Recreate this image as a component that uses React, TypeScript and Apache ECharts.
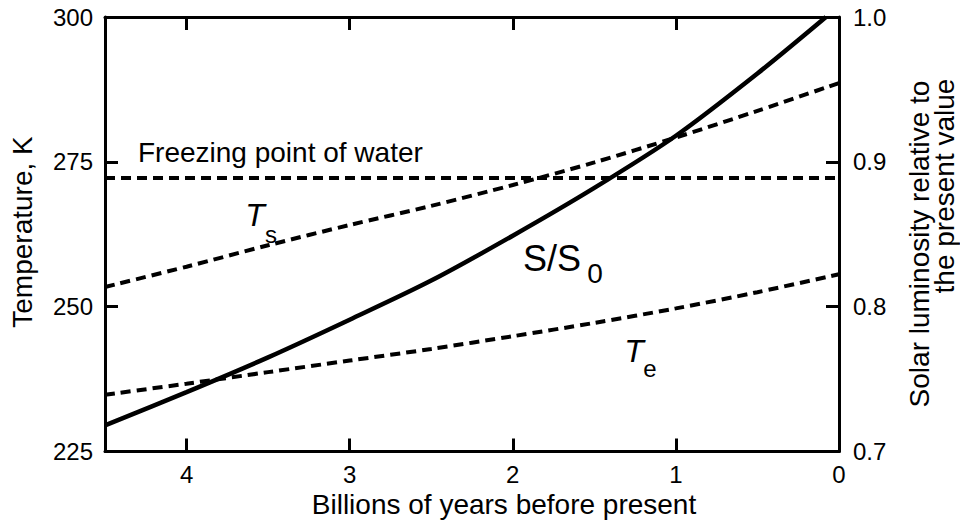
import React, { useEffect, useRef } from "react";
import * as echarts from "echarts";

// Billions of years before present
const years = [4.5, 4.0, 3.5, 3.0, 2.5, 2.0, 1.5, 1.0, 0.5, 0.0];
// Surface temperature Ts (K)
const surfaceTemp = [253.4, 256.9, 260.6, 264.1, 267.4, 271.0, 274.9, 279.2, 283.8, 288.6];
// Effective temperature Te (K)
const effectiveTemp = [234.8, 236.7, 238.7, 240.7, 242.7, 244.9, 247.2, 249.7, 252.5, 255.6];
// Solar luminosity S/S0 (right axis)
const luminosityYears = [4.5, 4.0, 3.5, 3.0, 2.5, 2.0, 1.5, 1.0, 0.5, 0.08];
const luminosity = [0.718, 0.741, 0.765, 0.791, 0.818, 0.849, 0.882, 0.918, 0.961, 1.0];
// Freezing point of water line (K)
const freezingPoint = 272.2;
const freezingSpan = [4.5, 0];

const FONT = "'Liberation Sans', Arial, Helvetica, sans-serif";
const BLACK = "#000";

export default function App() {
  const ref = useRef<HTMLDivElement>(null);

  useEffect(() => {
    if (!ref.current) return;
    const chart = echarts.init(ref.current, null, { renderer: "svg" });

    const axisLine = { show: true, onZero: false, lineStyle: { color: BLACK, width: 3 } };
    const axisTick = { show: true, inside: true, length: 13, lineStyle: { color: BLACK, width: 3 } };
    const labelBase = { color: BLACK, fontSize: 24, fontFamily: FONT };

    const text = (
      t: string,
      x: number,
      y: number,
      size: number,
      opts: Record<string, any> = {}
    ) => ({
      type: "text",
      x,
      y,
      rotation: opts.rotation || 0,
      silent: true,
      style: {
        text: t,
        fontSize: size,
        fontFamily: FONT,
        fontStyle: opts.italic ? "italic" : "normal",
        fill: BLACK,
        align: opts.align || "center",
        verticalAlign: "middle",
        lineHeight: opts.lineHeight || size,
      },
    });

    chart.setOption({
      animation: false,
      backgroundColor: "#fff",
      grid: { left: 105, right: 121, top: 17, bottom: 77.5, containLabel: false },
      xAxis: [
        {
          type: "value",
          position: "bottom",
          min: 0,
          max: 4.5,
          interval: 1,
          inverse: true,
          axisLine,
          axisTick,
          splitLine: { show: false },
          axisLabel: {
            ...labelBase,
            margin: 12,
            lineHeight: 22,
            formatter: (v: number) => (Number.isInteger(v) ? String(v) : ""),
          },
        },
        {
          type: "value",
          position: "top",
          min: 0,
          max: 4.5,
          interval: 1,
          inverse: true,
          axisLine,
          axisTick,
          splitLine: { show: false },
          axisLabel: { show: false },
        },
      ],
      yAxis: [
        {
          type: "value",
          position: "left",
          min: 225,
          max: 300,
          interval: 25,
          axisLine,
          axisTick,
          splitLine: { show: false },
          axisLabel: { ...labelBase, margin: 12 },
        },
        {
          type: "value",
          position: "right",
          min: 0.7,
          max: 1.0,
          interval: 0.1,
          axisLine,
          axisTick,
          splitLine: { show: false },
          axisLabel: {
            ...labelBase,
            margin: 14,
            formatter: (v: number) => v.toFixed(1),
          },
        },
      ],
      series: [
        {
          name: "Freezing point of water",
          type: "line",
          xAxisIndex: 0,
          yAxisIndex: 0,
          showSymbol: false,
          data: freezingSpan.map((t) => [t, freezingPoint]),
          lineStyle: { color: BLACK, width: 4, type: [10, 6], cap: "butt" },
        },
        {
          name: "Ts",
          type: "line",
          xAxisIndex: 0,
          yAxisIndex: 0,
          smooth: 0.3,
          showSymbol: false,
          data: years.map((t, i) => [t, surfaceTemp[i]]),
          lineStyle: { color: BLACK, width: 4, type: [10, 6], cap: "butt" },
        },
        {
          name: "Te",
          type: "line",
          xAxisIndex: 0,
          yAxisIndex: 0,
          smooth: 0.3,
          showSymbol: false,
          data: years.map((t, i) => [t, effectiveTemp[i]]),
          lineStyle: { color: BLACK, width: 4, type: [10, 6], cap: "butt" },
        },
        {
          name: "S/S0",
          type: "line",
          xAxisIndex: 0,
          yAxisIndex: 1,
          smooth: 0.3,
          showSymbol: false,
          data: luminosityYears.map((t, i) => [t, luminosity[i]]),
          lineStyle: { color: BLACK, width: 4.5, type: "solid" },
        },
      ],
      graphic: [
        text("Billions of years before present", 504, 504, 28, { lineHeight: 26 }),
        text("Temperature, K", 22, 232, 28, { rotation: Math.PI / 2 }),
        text("Solar luminosity relative to", 919, 244, 28, { rotation: Math.PI / 2, lineHeight: 26 }),
        text("the present value", 944, 186, 28, { rotation: Math.PI / 2, lineHeight: 26 }),
        text("Freezing point of water", 138, 152, 28, { align: "left" }),
        text("T", 255, 215, 32, { italic: true }),
        text("s", 271, 234, 24),
        text("T", 634, 351, 32, { italic: true }),
        text("e", 650, 368, 24),
        text("S/S", 552, 258, 36),
        text("0", 595, 273, 28),
      ],
    });

    return () => chart.dispose();
  }, []);

  return (
    <div
      ref={ref}
      style={{ position: "fixed", left: 0, top: 0, width: 960, height: 529, background: "#fff" }}
    />
  );
}
